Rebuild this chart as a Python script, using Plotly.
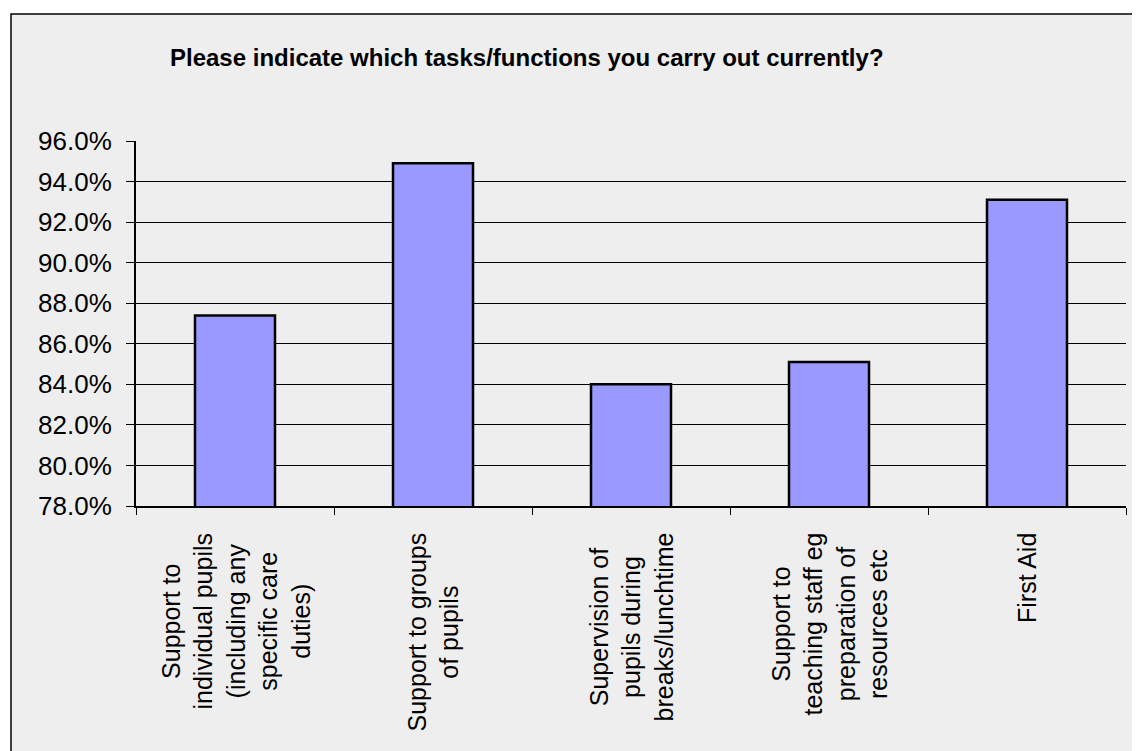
import plotly.graph_objects as go

categories = [
    "Support to<br>individual pupils<br>(including any<br>specific care<br>duties)",
    "Support to groups<br>of pupils",
    "Supervision of<br>pupils during<br>breaks/lunchtime",
    "Support to<br>teaching staff eg<br>preparation of<br>resources etc",
    "First Aid",
]
values = [0.874, 0.949, 0.840, 0.851, 0.931]
tick_vals = [0.78, 0.80, 0.82, 0.84, 0.86, 0.88, 0.90, 0.92, 0.94, 0.96]
tick_text = ["78.0%", "80.0%", "82.0%", "84.0%", "86.0%", "88.0%", "90.0%", "92.0%", "94.0%", "96.0%"]
title_text = "Please indicate which tasks/functions you carry out currently?"

OFF = 8  # page body margin
W, H = 1140 - OFF, 751 - OFF
L, T = 136 - OFF, 141 - OFF
R = 14
B = H - (506 - OFF)
pw = W - L - R
ph = H - T - B

x_idx = list(range(len(categories)))

fig = go.Figure()
fig.add_trace(go.Bar(
    x=x_idx, y=values,
    marker=dict(color="#9999FF", line=dict(color="black", width=2.5)),
    width=0.404,
    hoverinfo="skip",
))

font = "Arial, Liberation Sans, sans-serif"

for i, c in enumerate(categories):
    fig.add_annotation(
        x=i, xref="x", y=0, yref="paper", yshift=-25,
        text=c, textangle=-90, showarrow=False,
        xanchor="center", yanchor="top", align="center",
        font=dict(family=font, size=25, color="black"),
    )

fig.add_annotation(
    x=(527 - OFF - L) / pw, xref="paper", y=1 + (T - (58 - OFF)) / ph, yref="paper",
    text="<b>" + title_text + "</b>", showarrow=False,
    xanchor="center", yanchor="middle",
    font=dict(family=font, size=24, color="black"),
)

# outer chart-area border
fig.add_shape(
    type="rect", xref="paper", yref="paper", layer="below",
    x0=(11 - OFF - L) / pw, x1=(W + 20 - L) / pw,
    y0=-(B + 20) / ph, y1=1 + (T - (14 - OFF)) / ph,
    line=dict(color="black", width=1.5), fillcolor="#EEEEEE",
)

fig.update_layout(
    width=W, height=H,
    margin=dict(l=L, r=R, t=T, b=B, pad=0),
    paper_bgcolor="white", plot_bgcolor="rgba(0,0,0,0)",
    showlegend=False,
    font=dict(family=font, color="black"),
    xaxis=dict(
        range=[-0.5, 4.5], tickvals=[-0.5, 0.5, 1.5, 2.5, 3.5, 4.5],
        ticktext=["", "", "", "", "", ""],
        ticks="outside", ticklen=7, tickwidth=1, tickcolor="black",
        showline=True, linecolor="black", linewidth=2,
        showgrid=False, zeroline=False, fixedrange=True,
    ),
    yaxis=dict(
        range=[0.78, 0.96], tickvals=tick_vals, ticktext=tick_text,
        ticks="outside", ticklen=8, tickwidth=1, tickcolor="black",
        tickfont=dict(family=font, size=26, color="black"),
        ticklabelstandoff=9,
        showline=True, linecolor="black", linewidth=2,
        showgrid=True, gridcolor="black", gridwidth=1,
        zeroline=False, fixedrange=True,
    ),
)

fig.write_html("out.html")
